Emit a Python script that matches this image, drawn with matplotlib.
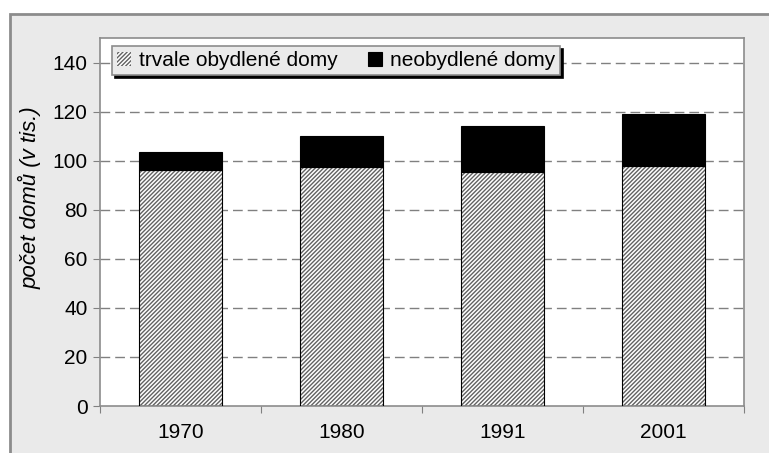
import matplotlib.pyplot as plt
from matplotlib.patches import Rectangle

plt.rcParams['font.family'] = ['Liberation Sans', 'DejaVu Sans']
plt.rcParams['hatch.linewidth'] = 1.0

years = ['1970', '1980', '1991', '2001']
trvale = [96.0, 97.5, 95.2, 97.8]
neobydlene = [7.6, 12.7, 19.0, 21.3]
yticks = [0, 20, 40, 60, 80, 100, 120, 140]

fig = plt.figure(figsize=(7.69, 4.53), dpi=100)
fig.patch.set_facecolor('white')

# grey chart area with border (runs off right/bottom edge)
fig.patches.append(Rectangle((10 / 769, -0.05), 1.0, 1 - 14 / 453 + 0.05,
                             transform=fig.transFigure, facecolor='#eaeaea',
                             edgecolor='#8c8c8c', linewidth=2, zorder=-1))

ax = fig.add_axes([100 / 769, 1 - 406 / 453, 644 / 769, 368 / 453])
ax.set_facecolor('white')

x = range(len(years))
w = 0.515
ax.bar(x, trvale, w, color='white', edgecolor='#626262', linewidth=0,
       hatch='////////', zorder=2, label='trvale obydlené domy')
ax.bar(x, trvale, w, fill=False, edgecolor='black', linewidth=0.8, zorder=3)
ax.bar(x, neobydlene, w, bottom=trvale, color='black', edgecolor='black',
       linewidth=0.8, zorder=3, label='neobydlené domy')

ax.set_ylim(0, 150)
ax.set_xlim(-0.5, len(years) - 0.5)
ax.set_yticks(yticks)
ax.set_xticks([i - 0.5 for i in range(len(years) + 1)])
ax.set_xticklabels([])
ax.set_xticks(list(x), minor=True)
ax.set_xticklabels(years, minor=True)
ax.tick_params(axis='x', which='minor', length=0, pad=12, labelsize=15)
ax.tick_params(axis='x', which='major', length=5, color='#808080')
ax.tick_params(axis='y', length=5, color='#808080', labelsize=15, pad=4)

for y in yticks[1:]:
    ax.axhline(y, color='#808080', linewidth=1, linestyle=(0, (7, 3.6)), zorder=1)

for s in ax.spines.values():
    s.set_color('#8c8c8c')
    s.set_linewidth(1.2)

fig.text(30 / 769, 1 - 198 / 453, 'počet domů (v tis.)', rotation=90,
         style='italic', fontsize=16, ha='center', va='center')

leg = ax.legend(loc='upper left', bbox_to_anchor=(12 / 644, 1 - 8 / 368), ncol=2,
                fontsize=15, frameon=True, fancybox=False,
                shadow={'color': 'black', 'alpha': 1},
                handlelength=0.65, handleheight=0.65, handletextpad=0.4,
                columnspacing=1.45, borderpad=0.25, borderaxespad=0)
leg.get_frame().set_facecolor('#eaeaea')
leg.get_frame().set_edgecolor('#8c8c8c')
leg.get_frame().set_linewidth(1.2)
leg.get_frame().set_alpha(1)
leg.set_zorder(5)

fig.savefig('out.png', dpi=100)
